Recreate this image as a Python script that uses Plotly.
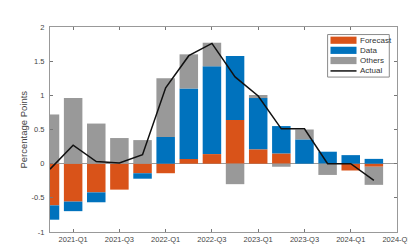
import plotly.graph_objects as go

quarters = ["2020-Q4", "2021-Q1", "2021-Q2", "2021-Q3", "2021-Q4",
            "2022-Q1", "2022-Q2", "2022-Q3", "2022-Q4",
            "2023-Q1", "2023-Q2", "2023-Q3", "2023-Q4",
            "2024-Q1", "2024-Q2"]
forecast = [-0.61, -0.555, -0.42, -0.38, -0.14, -0.14, 0.07, 0.14, 0.64,
            0.21, 0.15, 0.0, 0.0, -0.10, -0.045]
data = [-0.21, -0.14, -0.145, 0.0, -0.08, 0.39, 1.03, 1.285, 0.935,
        0.75, 0.40, 0.355, 0.175, 0.125, 0.07]
others = [0.72, 0.96, 0.587, 0.375, 0.345, 0.86, 0.50, 0.345, -0.30,
          0.045, -0.045, 0.145, -0.165, 0.0, -0.265]
actual = [-0.08, 0.27, 0.03, 0.01, 0.13, 1.11, 1.58, 1.76, 1.27,
          0.99, 0.51, 0.51, 0.0, 0.0, -0.245]
tick_labels = ["2021-Q1", "2021-Q3", "2022-Q1", "2022-Q3",
               "2023-Q1", "2023-Q3", "2024-Q1", "2024-Q3"]
y_ticks = [-1, -0.5, 0, 0.5, 1, 1.5, 2]
y_tick_text = ["-1", "-0.5", "0", "0.5", "1", "1.5", "2"]

C_FORECAST = "#D95319"
C_DATA = "#0072BD"
C_OTHERS = "#999999"
C_ACTUAL = "#111111"

x = list(range(len(quarters)))
tick_pos = [quarters.index("2021-Q1") + 2 * i for i in range(len(tick_labels))]

fig = go.Figure()
for name, vals, col in [("Forecast", forecast, C_FORECAST),
                        ("Data", data, C_DATA),
                        ("Others", others, C_OTHERS)]:
    fig.add_trace(go.Bar(x=x, y=vals, name=name, marker_color=col,
                         marker_line_width=0, width=0.8, showlegend=False))
fig.add_trace(go.Scatter(x=x, y=actual, mode="lines", name="Actual",
                         line=dict(color=C_ACTUAL, width=1.5), showlegend=False))

# plot-area geometry (pixels)
L, R, T, B = 42, 14, 19, 12
W, H = 416, 248
pw, ph = W - L - R, H - T - B
def px(v):
    return (v - L) / pw
def py(v):
    return (H - B - v) / ph

font = "Liberation Sans, Arial, sans-serif"
shapes = []
annotations = []
# manual legend
shapes.append(dict(type="rect", xref="paper", yref="paper",
                   x0=px(330), x1=px(394), y0=py(72), y1=py(27),
                   line=dict(color="#8a8a8a", width=1), fillcolor="white"))
rows = [("Forecast", C_FORECAST, 33), ("Data", C_DATA, 43.7),
        ("Others", C_OTHERS, 54.5), ("Actual", C_ACTUAL, 65.5)]
for name, col, yc in rows:
    if name == "Actual":
        shapes.append(dict(type="line", xref="paper", yref="paper",
                           x0=px(333), x1=px(360), y0=py(yc), y1=py(yc),
                           line=dict(color=col, width=1.5)))
    else:
        shapes.append(dict(type="rect", xref="paper", yref="paper",
                           x0=px(333), x1=px(360), y0=py(yc + 3.8), y1=py(yc - 3.8),
                           line=dict(width=0), fillcolor=col))
    annotations.append(dict(text=name, xref="paper", yref="paper",
                            x=px(361.5), y=py(yc), xanchor="left", yanchor="middle",
                            showarrow=False, font=dict(size=8, color="#333333", family=font)))
annotations.append(dict(text="Percentage Points", xref="paper", yref="paper",
                        x=px(14), y=0.5, textangle=-90, xanchor="center", yanchor="middle",
                        showarrow=False, font=dict(size=9.5, color="#444444", family=font)))

fig.update_layout(
    width=W, height=H,
    margin=dict(l=L, r=R, t=T, b=B, pad=0),
    barmode="relative", bargap=0.2,
    paper_bgcolor="white", plot_bgcolor="white",
    font=dict(family=font, size=7.5, color="#444444"),
    shapes=shapes, annotations=annotations,
    showlegend=False,
)
fig.update_xaxes(range=[0, 15], tickvals=tick_pos, ticktext=tick_labels,
                 ticks="inside", ticklen=3, tickcolor="#777777",
                 showline=True, linecolor="#999999", linewidth=1, mirror="ticks",
                 showgrid=False, zeroline=False, tickangle=0,
                 ticklabeloverflow="allow",
                 tickfont=dict(size=7.5, color="#444444"))
fig.update_yaxes(range=[-1, 2], tickvals=y_ticks, ticktext=y_tick_text,
                 ticks="inside", ticklen=3, tickcolor="#777777",
                 showline=True, linecolor="#999999", linewidth=1, mirror="ticks",
                 showgrid=False, zeroline=True, zerolinecolor="#9a9a9a", zerolinewidth=1,
                 ticklabelstandoff=3,
                 tickfont=dict(size=7.5, color="#444444"))

fig.write_html("out.html")
